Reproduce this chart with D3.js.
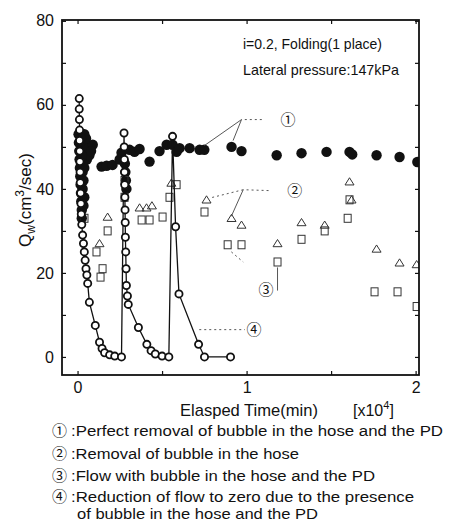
<!DOCTYPE html>
<html>
<head>
<meta charset="utf-8">
<script src="https://cdn.jsdelivr.net/npm/d3@7"></script>
<style>
  body { margin: 0; background: #fff; }
  text { font-family: "Liberation Sans", Arial, sans-serif; fill: #111; }
  .num { font-family: "Noto Sans CJK JP", "DejaVu Sans", sans-serif; }
</style>
</head>
<body>
<div id="chart"></div>
<script>
// time in x10^4 min, flow Qw in cm3/sec

// (1) perfect removal - filled circles
const fullT = [0.006, 0.008, 0.01, 0.012, 0.014, 0.016, 0.018, 0.02, 0.022, 0.025, 0.02, 0.03, 0.035, 0.03, 0.03, 0.035, 0.04, 0.045, 0.055, 0.06, 0.09,
  0.04, 0.05, 0.07, 0.08, 0.02, 0.025, 0.03, 0.04, 0.04, 0.035, 0.025,
  0.142, 0.172, 0.207, 0.249, 0.26, 0.28, 0.283, 0.286, 0.289, 0.308, 0.337, 0.367, 0.426, 0.485, 0.527, 0.562, 0.586, 0.604, 0.663, 0.722,
  0.75, 0.911, 0.97, 1.178, 1.325, 1.473, 1.609, 1.625, 1.769, 1.905, 2.01];
const fullQ = [53, 51, 49, 47, 45, 43, 41, 39, 37, 35, 46, 50, 48, 44, 40, 42, 51, 49, 47, 49.5, 50.5,
  53, 52, 48, 49, 52, 48, 46, 45, 38, 36, 33,
  45.3, 45.5, 45.7, 47, 48.6, 46, 44, 42, 40, 49.3, 48.8, 49.5, 46.5, 49, 50.5, 50.5, 48.8, 49.7, 49.7, 49.3,
  49.3, 50, 49, 48, 48.5, 48.8, 48.8, 48.2, 48, 47.6, 46.4];

// (4) reduction to zero - open circles joined by a line
const zeroT = [0.01, 0.01, 0.011, 0.012, 0.012, 0.013, 0.014, 0.015, 0.016, 0.018, 0.02, 0.022, 0.025, 0.03, 0.035, 0.04, 0.045, 0.05, 0.055, 0.06, 0.07, 0.105, 0.13, 0.145, 0.16, 0.19, 0.22, 0.26,
  0.275, 0.276, 0.277, 0.278, 0.279, 0.28, 0.281, 0.282, 0.283, 0.285, 0.287, 0.289, 0.295, 0.3, 0.36, 0.41, 0.435, 0.46, 0.5, 0.54,
  0.562, 0.58, 0.6, 0.716, 0.751, 0.905];
const zeroQ = [61.5, 59, 56.5, 54, 51.5, 49, 46.5, 44, 41.5, 39, 36.5, 34, 31.5, 29, 27, 25, 23, 21, 19.5, 17.5, 13, 7.5, 3.5, 2, 1, 0.5, 0.2, 0,
  53.3, 50, 47, 44, 41, 38, 35, 32, 28.5, 25, 21, 17, 14.5, 12.5, 7, 3, 1.5, 0.7, 0.2, 0,
  52.5, 31, 15, 3, 0, 0];

// (2) removal in the hose - open triangles
const hoseT = [0.13, 0.178, 0.367, 0.408, 0.44, 0.555, 0.763, 0.911, 0.97, 1.183, 1.325, 1.462, 1.609, 1.621, 1.769, 1.905, 2.006];
const hoseQ = [27, 33.3, 35.5, 35.5, 36, 41.4, 37.4, 33, 31.4, 27, 32, 31.4, 41.7, 37.4, 25.7, 22.4, 22];

// (3) flow with bubble - open squares
const bubT = [0.041, 0.112, 0.136, 0.148, 0.178, 0.278, 0.278, 0.379, 0.426, 0.503, 0.544, 0.586, 0.751, 0.888, 0.97, 1.183, 1.325, 1.462, 1.598, 1.609, 1.757, 1.893, 2.006];
const bubQ = [33, 25, 19, 21, 30, 42, 38, 32.6, 32.6, 33.3, 38, 41, 34.5, 26.7, 26.7, 22.6, 28, 30, 33, 37.4, 15.5, 15.5, 12];

const yTicks = [0, 10, 20, 30, 40, 50, 60, 70, 80];
const xTicks = [0, 0.5, 1, 1.5, 2];

const legendNums = ['①', '②', '③', '④'];
const legendText = [
  ':Perfect removal of bubble in the hose and the PD',
  ':Removal of bubble in the hose',
  ':Flow with bubble in the hose and the PD',
  ':Reduction of flow to zero due to the presence'
];

const svg = d3.select('#chart').append('svg')
  .attr('width', 449)
  .attr('height', 523);

const x = d3.scaleLinear().domain([-0.092, 2.02]).range([62, 419]);
const y = d3.scaleLinear().domain([-4.3, 80.2]).range([375, 20]);

svg.append('clipPath').attr('id', 'clip')
  .append('rect').attr('x', 62).attr('y', 20).attr('width', 357).attr('height', 355);

const plot = svg.append('g').attr('clip-path', 'url(#clip)');

// filled circles
plot.selectAll('.full')
  .data(fullT)
  .enter().append('circle')
  .attr('cx', d => x(d))
  .attr('cy', (d, i) => y(fullQ[i]))
  .attr('r', 5.2)
  .attr('fill', '#111');

// squares
plot.selectAll('.bub')
  .data(bubT)
  .enter().append('rect')
  .attr('x', d => x(d) - 3.5)
  .attr('y', (d, i) => y(bubQ[i]) - 4)
  .attr('width', 7)
  .attr('height', 8)
  .attr('fill', 'none')
  .attr('stroke', '#333')
  .attr('stroke-width', 1);

// triangles
plot.selectAll('.hose')
  .data(hoseT)
  .enter().append('path')
  .attr('d', 'M0,-4L4.5,3.2L-4.5,3.2Z')
  .attr('transform', (d, i) => `translate(${x(d)},${y(hoseQ[i])})`)
  .attr('fill', 'none')
  .attr('stroke', '#333')
  .attr('stroke-width', 1);

// line for (4)
const line = d3.line()
  .x(d => x(d))
  .y((d, i) => y(zeroQ[i]));
plot.append('path')
  .datum(zeroT)
  .attr('d', line)
  .attr('fill', 'none')
  .attr('stroke', '#111')
  .attr('stroke-width', 1.3);

plot.selectAll('.zero')
  .data(zeroT)
  .enter().append('circle')
  .attr('cx', d => x(d))
  .attr('cy', (d, i) => y(zeroQ[i]))
  .attr('r', 3.6)
  .attr('fill', '#fff')
  .attr('stroke', '#111')
  .attr('stroke-width', 1.8);

// axes, ticks pointing inward
const fmt = d => (Number.isInteger(d) && d % 20 === 0) ? d : '';
svg.append('g')
  .attr('transform', 'translate(62,0)')
  .call(d3.axisLeft(y).tickValues(yTicks).tickSize(-4).tickPadding(8).tickFormat(fmt))
  .call(g => g.select('.domain').remove())
  .selectAll('text').style('font-size', '16px');

svg.append('g')
  .attr('transform', 'translate(419,0)')
  .call(d3.axisRight(y).tickValues(yTicks).tickSize(-4).tickFormat(''))
  .call(g => g.select('.domain').remove());

svg.append('g')
  .attr('transform', 'translate(0,375)')
  .call(d3.axisBottom(x).tickValues(xTicks).tickSize(-4).tickPadding(7).tickFormat(d => Number.isInteger(d) ? d : ''))
  .call(g => g.select('.domain').remove())
  .selectAll('text').style('font-size', '16px');

svg.append('g')
  .attr('transform', 'translate(0,20)')
  .call(d3.axisTop(x).tickValues(xTicks).tickSize(-4).tickFormat(''))
  .call(g => g.select('.domain').remove());

svg.selectAll('.tick line').attr('stroke', '#111').attr('stroke-width', 1.2);

svg.append('rect')
  .attr('x', 62).attr('y', 20).attr('width', 357).attr('height', 355)
  .attr('fill', 'none').attr('stroke', '#111').attr('stroke-width', 1.8);

// condition text
svg.append('text').attr('x', 243).attr('y', 49)
  .attr('font-size', '14.5px').attr('textLength', 139).attr('lengthAdjust', 'spacingAndGlyphs')
  .text('i=0.2, Folding(1 place)');
svg.append('text').attr('x', 243).attr('y', 75)
  .attr('font-size', '14.5px').attr('textLength', 156).attr('lengthAdjust', 'spacingAndGlyphs')
  .text('Lateral pressure:147kPa');

// axis titles
svg.append('text').attr('x', 180).attr('y', 416)
  .attr('font-size', '17px').attr('textLength', 138).attr('lengthAdjust', 'spacingAndGlyphs')
  .text('Elasped Time(min)');
const unit = svg.append('text').attr('x', 353).attr('y', 416).attr('font-size', '16px');
unit.append('tspan').text('[x10');
unit.append('tspan').attr('dy', -7).attr('font-size', '11px').text('4');
unit.append('tspan').attr('dy', 7).text(']');

const ylab = svg.append('text')
  .attr('transform', 'translate(31,200) rotate(-90)')
  .attr('text-anchor', 'middle')
  .attr('font-size', '17px');
ylab.append('tspan').text('Q');
ylab.append('tspan').attr('dy', 4).attr('font-size', '12px').text('w');
ylab.append('tspan').attr('dy', -4).text('(cm');
ylab.append('tspan').attr('dy', -7).attr('font-size', '12px').text('3');
ylab.append('tspan').attr('dy', 7).text('/sec)');

// numbered callouts inside the plot
const callT = [1.2, 1.24, 1.07, 1.0];
const callQ = [56.5, 39.5, 16, 6.5];
svg.selectAll('.call')
  .data(callT)
  .enter().append('text')
  .attr('class', 'num')
  .attr('x', d => x(d))
  .attr('y', (d, i) => y(callQ[i]) + 5)
  .attr('font-size', '15px')
  .attr('fill', '#333')
  .text((d, i) => legendNums[i]);

// leader lines [t1, q1, t2, q2, dashed]
const leaders = [
  [1.09, 56.5, 0.97, 56.5, true],
  [0.97, 56.5, 0.75, 50.3, false],
  [0.97, 56.5, 0.92, 51.5, false],
  [1.13, 39.6, 0.98, 39.8, true],
  [0.98, 39.8, 0.78, 37.8, true],
  [0.98, 39.8, 0.91, 33.5, false],
  [0.91, 25, 0.98, 22.6, true],
  [1.183, 21.3, 1.183, 15.8, false],
  [0.72, 6.5, 0.99, 6.5, true]
];
svg.selectAll('.lead')
  .data(leaders)
  .enter().append('line')
  .attr('x1', d => x(d[0])).attr('y1', d => y(d[1]))
  .attr('x2', d => x(d[2])).attr('y2', d => y(d[3]))
  .attr('stroke', '#444')
  .attr('stroke-width', 0.9)
  .attr('stroke-dasharray', d => d[4] ? '2,3' : null);

// legend below the chart
const legY = [436, 459, 481, 502];
const legW = [372, 228, 304, 343];
legendNums.forEach((n, i) => {
  svg.append('text').attr('class', 'num')
    .attr('x', 52).attr('y', legY[i])
    .attr('font-size', '15px').attr('fill', '#333')
    .text(n);
  svg.append('text')
    .attr('x', 71).attr('y', legY[i])
    .attr('font-size', '15.5px')
    .attr('textLength', legW[i]).attr('lengthAdjust', 'spacingAndGlyphs')
    .text(legendText[i]);
});
svg.append('text')
  .attr('x', 77).attr('y', 519)
  .attr('font-size', '15px')
  .attr('textLength', 241).attr('lengthAdjust', 'spacingAndGlyphs')
  .text('of bubble in the hose and the PD');
</script>
</body>
</html>
